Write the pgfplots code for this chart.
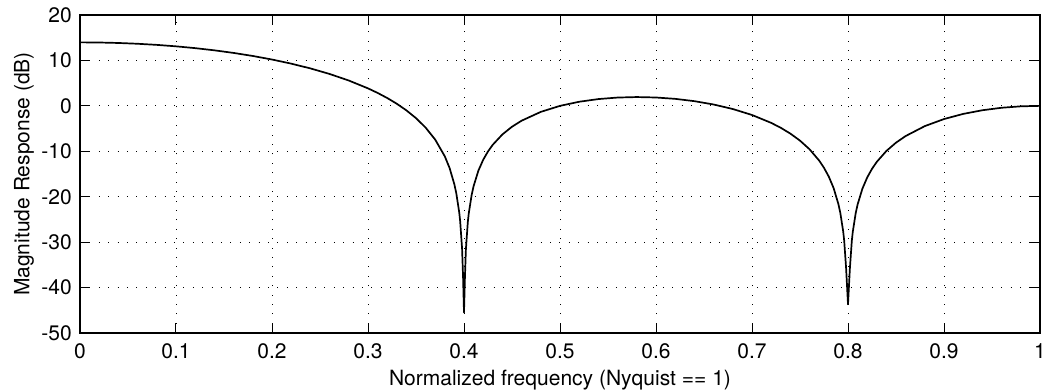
\documentclass[border=0pt]{standalone}
\usepackage{fontspec}
\setmainfont{TeX Gyre Heros}
\usepackage{pgfplots}
\pgfplotsset{compat=1.18}
\begin{document}
\fontsize{21}{25}\selectfont
\begin{tikzpicture}
\begin{axis}[
  scale only axis, width=960pt, height=318pt,
  xmin=0, xmax=1, ymin=-50, ymax=20,
  xtick={0,0.1,0.2,0.3,0.4,0.5,0.6,0.7,0.8,0.9,1},
  xticklabels={0,0.1,0.2,0.3,0.4,0.5,0.6,0.7,0.8,0.9,1},
  ytick={-50,-40,-30,-20,-10,0,10,20},
  yticklabels={-50,-40,-30,-20,-10,0,10,20},
  tick align=inside, major tick length=10pt,
  tick style={black, line width=1pt},
  axis line style={black, line width=1.4pt},
  grid=major,
  grid style={black, line width=0.9pt, dash pattern=on 0.9pt off 8.5pt},
  ticklabel style={font=\fontsize{21}{25}\selectfont},
  xticklabel style={yshift=-3pt},
  yticklabel style={xshift=-1pt},
  xlabel={Normalized frequency (Nyquist == 1)},
  ylabel={Magnitude Response (dB)},
  every axis x label/.style={at={(axis description cs:0.5,-0.148)}, anchor=center, font=\fontsize{21}{25}\selectfont},
  every axis y label/.style={at={(axis description cs:-0.0583,0.5)}, rotate=90, anchor=center, font=\fontsize{21}{25}\selectfont},
]
\addplot[black, line width=1.7pt, line join=round] coordinates {
(0,13.979) (0.02,13.945) (0.04,13.842) (0.06,13.668) (0.08,13.423) (0.10,13.103)
(0.12,12.705) (0.14,12.223) (0.16,11.651) (0.18,10.981) (0.20,10.200)
(0.22,9.295) (0.24,8.244) (0.26,7.019) (0.28,5.576) (0.30,3.849)
(0.31,2.847) (0.32,1.728) (0.33,0.462) (0.34,-0.994) (0.35,-2.705) (0.36,-4.781) (0.37,-7.428)
(0.38,-11.109) (0.385,-13.692) (0.39,-17.301) (0.392,-19.274) (0.395,-23.411) (0.396,-25.367) (0.398,-31.43) (0.399,-37.46) (0.4,-45.5)
(0.401,-37.50) (0.402,-31.50) (0.404,-25.52) (0.405,-23.60) (0.408,-19.575) (0.41,-17.675) (0.415,-14.256) (0.42,-11.861) (0.425,-10.030) (0.43,-8.557)
(0.44,-6.289) (0.45,-4.594) (0.46,-3.267) (0.48,-1.324) (0.50,0.000) (0.52,0.905)
(0.54,1.495) (0.56,1.829) (0.58,1.938) (0.60,1.841) (0.62,1.541)
(0.64,1.034) (0.66,0.300) (0.68,-0.694) (0.70,-2.008) (0.72,-3.747) (0.73,-4.833)
(0.74,-6.114) (0.75,-7.656) (0.76,-9.568) (0.77,-12.057) (0.775,-13.641) (0.78,-15.584) (0.785,-18.091)
(0.79,-21.626) (0.792,-23.57) (0.795,-27.66) (0.796,-29.60) (0.798,-35.63) (0.8,-43.7)
(0.802,-35.65) (0.804,-29.64) (0.805,-27.71) (0.808,-23.64) (0.81,-21.714) (0.815,-18.224) (0.82,-15.762) (0.825,-13.863) (0.83,-12.323)
(0.84,-9.923) (0.85,-8.100) (0.86,-6.647) (0.88,-4.460) (0.90,-2.903) (0.92,-1.772)
(0.94,-0.964) (0.96,-0.419) (0.98,-0.103) (1.0,0.0)
};
\end{axis}
\pgfresetboundingbox
\path[use as bounding box] (-80pt,-58pt) rectangle (970pt,333pt);
\end{tikzpicture}
\end{document}
